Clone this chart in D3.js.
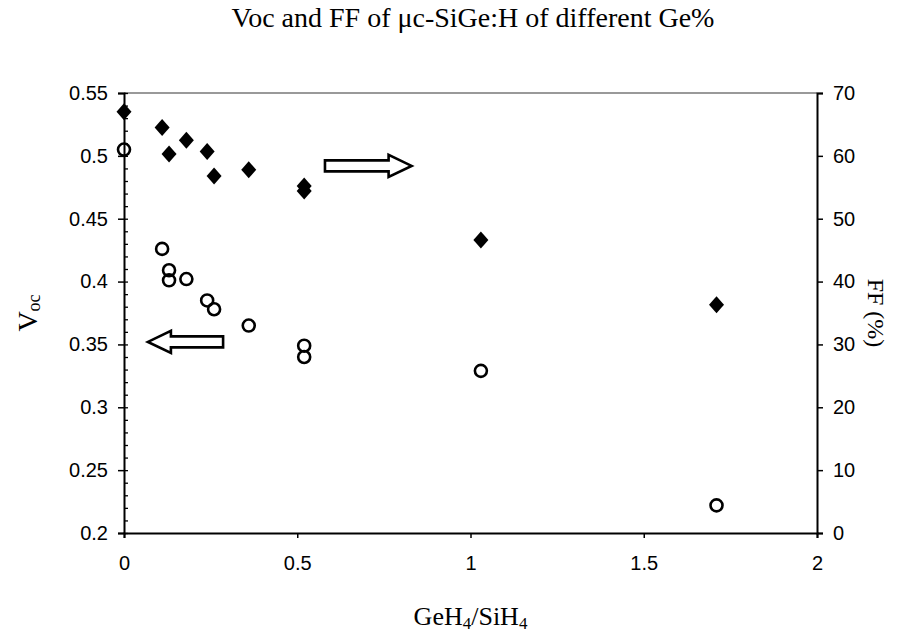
<!DOCTYPE html>
<html>
<head>
<meta charset="utf-8">
<script src="https://cdn.jsdelivr.net/npm/d3@7"></script>
<style>
  body { margin: 0; background: #fff; }
  .tick text { font-family: "Liberation Sans", Arial, sans-serif; font-size: 20px; fill: #000; }
  .serif { font-family: "Liberation Serif", "Times New Roman", serif; fill: #000; }
</style>
</head>
<body>
<script>

const svgWidth = 903;
const svgHeight = 634;

const margin = {
    top: 93,
    right: 86,
    bottom: 101,
    left: 124
};

// Voc data (open circles), x = GeH4/SiH4
var vocRatio = [0, 0.11, 0.13, 0.13, 0.18, 0.24, 0.26, 0.36, 0.52, 0.52, 1.03, 1.71];
var vocValues = [0.505, 0.426, 0.409, 0.401, 0.402, 0.385, 0.378, 0.365, 0.349, 0.340, 0.329, 0.222];

// FF data (filled diamonds), x = GeH4/SiH4
var ffRatio = [0, 0.11, 0.13, 0.18, 0.24, 0.26, 0.36, 0.52, 0.52, 1.03, 1.71];
var ffValues = [67.0, 64.5, 60.3, 62.5, 60.7, 56.8, 57.8, 55.2, 54.4, 46.6, 36.3];

// tick labels
var xTicks = [0, 0.5, 1, 1.5, 2];
var vocTicks = [0.2, 0.25, 0.3, 0.35, 0.4, 0.45, 0.5, 0.55];
var ffTicks = [0, 10, 20, 30, 40, 50, 60, 70];

// arrows pointing at the axis each series belongs to (data coords)
var ffArrow = [[0.58, 58.4], [0.83, 58.4]];
var vocArrow = [[0.286, 0.352], [0.069, 0.352]];

// create svg container
const svg = d3
   .select("body")
   .append("svg")
   .attr("height", svgHeight)
   .attr("width", svgWidth);

const chartGroup = svg.append("g")
   .attr("transform", `translate(${margin.left}, ${margin.top})`);

const chartHeight = svgHeight - margin.top - margin.bottom;
const chartWidth = svgWidth - margin.left - margin.right;

// scales
const xScale = d3.scaleLinear().domain([0, 2]).range([0, chartWidth]);
const yLeft = d3.scaleLinear().domain([0.2, 0.55]).range([chartHeight, 0]);
const yRight = d3.scaleLinear().domain([0, 70]).range([chartHeight, 0]);

// top border (lighter, like the scan)
chartGroup.append("line")
    .attr("x1", 0).attr("x2", chartWidth)
    .attr("y1", 0).attr("y2", 0)
    .attr("stroke", "#777")
    .attr("stroke-width", 1.5);

// minor ticks on the Voc axis, pointing inward
chartGroup.append("g")
    .call(d3.axisRight(yLeft)
        .tickValues(d3.range(0.2, 0.5501, 0.01))
        .tickSize(4)
        .tickFormat(""))
    .call(g => g.select(".domain").remove())
    .selectAll("line").attr("stroke", "#000").attr("stroke-width", 1.3);

// left axis
const leftAxis = chartGroup.append("g")
    .call(d3.axisLeft(yLeft)
        .tickValues(vocTicks)
        .tickSize(6)
        .tickPadding(10)
        .tickFormat(d => d3.format("")(+d.toFixed(2))));

// right axis
const rightAxis = chartGroup.append("g")
    .attr("transform", `translate(${chartWidth}, 0)`)
    .call(d3.axisRight(yRight)
        .tickValues(ffTicks)
        .tickSize(6)
        .tickPadding(10));

// bottom axis
const bottomAxis = chartGroup.append("g")
    .attr("transform", `translate(0, ${chartHeight})`)
    .call(d3.axisBottom(xScale)
        .tickValues(xTicks)
        .tickSize(5)
        .tickPadding(18)
        .tickFormat(d => String(d)));

[leftAxis, rightAxis, bottomAxis].forEach(ax => {
    ax.select(".domain").attr("stroke", "#000").attr("stroke-width", 2);
    ax.selectAll(".tick line").attr("stroke", "#000").attr("stroke-width", 1.5);
});

// Voc markers
chartGroup.append("g")
    .selectAll("circle")
    .data(vocValues)
    .enter()
    .append("circle")
    .attr("cx", (d, i) => xScale(vocRatio[i]))
    .attr("cy", d => yLeft(d))
    .attr("r", 6)
    .attr("fill", "none")
    .attr("stroke", "#000")
    .attr("stroke-width", 2.6);

// FF markers
const diamond = "M0,-8.5L7.5,0L0,8.5L-7.5,0Z";
chartGroup.append("g")
    .selectAll("path")
    .data(ffValues)
    .enter()
    .append("path")
    .attr("d", diamond)
    .attr("transform", (d, i) => `translate(${xScale(ffRatio[i])}, ${yRight(d)})`)
    .attr("fill", "#000");

// hollow block arrows
function blockArrow(x0, x1, y) {
    const dir = Math.sign(x1 - x0);
    const headLen = 23, headHalf = 11, bodyHalf = 5.5;
    const xb = x1 - dir * headLen;
    return `M${x0},${y - bodyHalf}L${xb},${y - bodyHalf}L${xb},${y - headHalf}` +
           `L${x1},${y}L${xb},${y + headHalf}L${xb},${y + bodyHalf}L${x0},${y + bodyHalf}Z`;
}

chartGroup.append("path")
    .attr("d", blockArrow(xScale(ffArrow[0][0]), xScale(ffArrow[1][0]), yRight(ffArrow[0][1])))
    .attr("fill", "#fff")
    .attr("stroke", "#000")
    .attr("stroke-width", 2.6)
    .attr("stroke-linejoin", "miter");

chartGroup.append("path")
    .attr("d", blockArrow(xScale(vocArrow[0][0]), xScale(vocArrow[1][0]), yLeft(vocArrow[0][1])))
    .attr("fill", "#fff")
    .attr("stroke", "#000")
    .attr("stroke-width", 2.6)
    .attr("stroke-linejoin", "miter");

// chart title
svg.append("text")
    .attr("class", "serif")
    .attr("x", 473)
    .attr("y", 27)
    .attr("text-anchor", "middle")
    .style("font-size", "28px")
    .text("Voc and FF of \u03bcc-SiGe:H of different Ge%");

// y title left
const vocLabel = svg.append("text")
    .attr("class", "serif")
    .attr("transform", `translate(37, ${margin.top + chartHeight / 2}) rotate(-90)`)
    .attr("text-anchor", "middle")
    .style("font-size", "28px");
vocLabel.append("tspan").text("V");
vocLabel.append("tspan").attr("dy", 3).style("font-size", "18px").text("oc");

// y title right
svg.append("text")
    .attr("class", "serif")
    .attr("transform", `translate(868, ${margin.top + chartHeight / 2}) rotate(90)`)
    .attr("text-anchor", "middle")
    .style("font-size", "24px")
    .text("FF (%)");

// x title
const xLabel = svg.append("text")
    .attr("class", "serif")
    .attr("x", margin.left + chartWidth / 2)
    .attr("y", 625)
    .attr("text-anchor", "middle")
    .style("font-size", "26px");
xLabel.append("tspan").text("GeH");
xLabel.append("tspan").attr("dy", 4).style("font-size", "17px").text("4");
xLabel.append("tspan").attr("dy", -4).text("/SiH");
xLabel.append("tspan").attr("dy", 4).style("font-size", "17px").text("4");

</script>
</body>
</html>
